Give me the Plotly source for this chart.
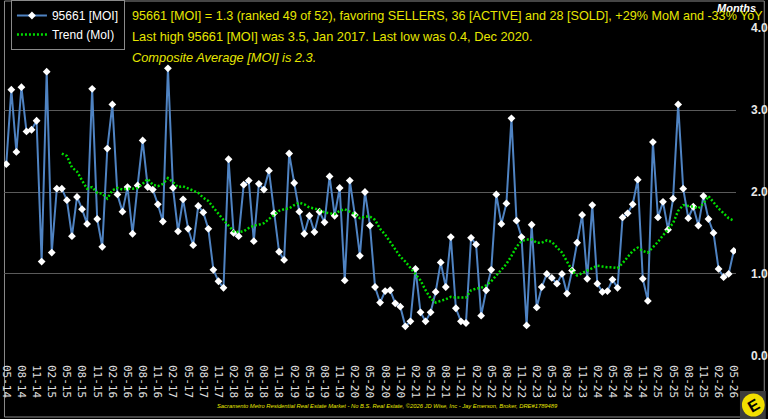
import pandas as pd
import plotly.graph_objects as go

# ---------------- data ----------------
months = [d.strftime("%m-%y") for d in pd.date_range("2014-05-01", periods=145, freq="MS")]

moi = [2.34, 3.25, 2.49, 3.28, 2.74, 2.76, 2.87, 1.15, 3.47, 1.26, 2.04, 2.04,
       1.90, 1.46, 1.94, 1.79, 1.61, 3.26, 1.67, 1.33, 2.53, 3.07, 1.97, 1.76,
       2.06, 1.49, 2.08, 2.63, 2.06, 2.03, 1.85, 1.64, 3.51, 2.05, 1.52, 1.91,
       1.55, 1.35, 1.83, 1.75, 1.55, 1.05, 0.91, 0.83, 2.40, 1.50, 1.46, 2.09,
       2.14, 1.40, 2.10, 2.03, 2.26, 1.74, 1.27, 1.17, 2.47, 2.11, 1.76, 1.49,
       1.71, 1.51, 1.76, 1.63, 2.19, 1.71, 2.05, 0.92, 2.14, 1.72, 1.22, 2.00,
       1.59, 0.84, 0.65, 0.79, 0.80, 0.64, 0.60, 0.36, 0.42, 1.06, 0.53, 0.42,
       0.53, 0.78, 1.14, 0.84, 1.45, 0.58, 0.42, 0.40, 1.44, 1.36, 0.49, 0.80,
       1.05, 1.97, 1.61, 1.86, 2.90, 1.65, 1.45, 0.37, 1.60, 0.59, 0.84, 1.00,
       0.95, 0.88, 1.00, 0.76, 1.04, 1.38, 1.72, 0.94, 1.84, 0.88, 0.78, 0.79,
       0.93, 0.83, 1.69, 1.74, 1.85, 2.15, 0.94, 0.67, 2.61, 1.69, 1.88, 1.54,
       1.92, 3.07, 2.04, 1.68, 1.82, 1.59, 1.95, 1.67, 1.50, 1.06, 0.96, 1.00,
       1.28]

trend = [None] * 11 + [
    2.47, 2.44, 2.30, 2.25, 2.14, 2.04, 2.06, 1.99, 1.98, 1.92, 2.02, 2.05,
    2.03, 2.04, 2.04, 2.05, 2.10, 2.16, 2.09, 2.07, 2.10, 2.17, 2.12, 2.06,
    2.07, 2.04, 2.02, 1.99, 1.93, 1.89, 1.81, 1.73, 1.66, 1.59, 1.52, 1.51,
    1.52, 1.56, 1.59, 1.60, 1.62, 1.67, 1.72, 1.77, 1.79, 1.80, 1.84, 1.87,
    1.85, 1.81, 1.80, 1.78, 1.75, 1.74, 1.73, 1.77, 1.79, 1.76, 1.73, 1.68,
    1.70, 1.70, 1.66, 1.55, 1.48, 1.39, 1.30, 1.21, 1.15, 1.07, 1.00, 0.92,
    0.80, 0.70, 0.65, 0.67, 0.69, 0.72, 0.71, 0.71, 0.71, 0.80, 0.82, 0.83,
    0.86, 0.91, 0.98, 1.04, 1.12, 1.22, 1.33, 1.40, 1.42, 1.42, 1.38, 1.38,
    1.41, 1.39, 1.32, 1.26, 1.15, 1.04, 0.98, 1.01, 1.05, 1.08, 1.10, 1.09,
    1.08, 1.08, 1.07, 1.13, 1.21, 1.28, 1.32, 1.28, 1.26, 1.32, 1.39, 1.47,
    1.55, 1.62, 1.77, 1.84, 1.83, 1.82, 1.80, 1.86, 1.95, 1.87, 1.80, 1.74,
    1.68, 1.65]

tick_labels = ["05-14", "08-14", "11-14", "02-15", "05-15", "08-15", "11-15",
               "02-16", "05-16", "08-16", "11-16", "02-17", "05-17", "08-17",
               "11-17", "02-18", "05-18", "08-18", "11-18", "02-19", "05-19",
               "08-19", "11-19", "02-20", "05-20", "08-20", "11-20", "02-21",
               "05-21", "08-21", "11-21", "02-22", "05-22", "08-22", "11-22",
               "02-23", "05-23", "08-23", "11-23", "02-24", "05-24", "08-24",
               "11-24", "02-25", "05-25", "08-25", "11-25", "02-26", "05-26"]

y_ticks = [0, 1, 2, 3, 4]

line1 = ("95661 [MOI] = 1.3 (ranked 49 of 52), favoring SELLERS, 36 [ACTIVE] and 28 [SOLD], "
         "+29% MoM and -33% YoY")
line2 = "Last high 95661 [MOI] was 3.5, Jan 2017. Last low was 0.4, Dec 2020."
line3 = "Composite Average [MOI] is 2.3."
footer = ("Sacramento Metro Residential Real Estate Market - No B.S. Real Estate, "
          "\u00a92026 JD Wise, Inc - Jay Emerson, Broker, DRE#1789489")

# ---------------- geometry helpers ----------------
W, H = 768, 419
PL, PR, PT, PB = 0, 738, 28, 356


def px(x):
    return (x - PL) / (PR - PL)


def py(y):
    return (PB - y) / (PB - PT)


YELLOW = "#e6e600"

fig = go.Figure()
fig.add_trace(go.Scatter(
    x=months, y=moi, name="95661 [MOI]", mode="lines+markers",
    line=dict(color="#4f83c2", width=2),
    marker=dict(symbol="diamond", size=6, color="white"),
))
fig.add_trace(go.Scatter(
    x=months, y=trend, name="Trend (MoI)", mode="lines",
    line=dict(color="#00dd00", width=2.5, dash="2px,2px"),
))

fig.update_layout(
    width=W, height=H,
    margin=dict(l=PL, r=W - PR, t=PT, b=H - PB),
    paper_bgcolor="black", plot_bgcolor="black",
    font=dict(family="Liberation Sans, Arial, sans-serif", color="white", size=12),
    showlegend=True,
    legend=dict(x=px(7), y=py(0), xanchor="left", yanchor="top",
                bgcolor="black", bordercolor="#8a8a8a", borderwidth=1,
                font=dict(size=12, color="white"), tracegroupgap=0),
    xaxis=dict(type="category", categoryorder="array", categoryarray=months,
               range=[-0.45, 144.45], showgrid=False, zeroline=False, showline=False,
               tickmode="array", tickvals=tick_labels, ticktext=tick_labels,
               tickangle=90, ticks="", ticklabelstandoff=8,
               tickfont=dict(family="DejaVu Sans Mono", size=11, color="#e0e0e0")),
    yaxis=dict(side="right", range=[-0.003, 4.003], tickmode="array",
               tickvals=y_ticks, ticktext=[f"{v:.1f}" for v in y_ticks],
               showgrid=True, gridcolor="#5a5a5a", gridwidth=1, zeroline=False,
               showline=False, ticks="", ticklabelstandoff=14,
               tickfont=dict(size=12, color="#e8e8e8", weight="bold")),
)

anns = [
    dict(text="<b><i>Months</i></b>", x=px(739), y=py(8), font=dict(size=11, color="white")),
    dict(text=line1, x=px(127), y=py(16.5), xanchor="left", font=dict(size=12.6, color=YELLOW)),
    dict(text=line2, x=px(127), y=py(36.5), xanchor="left", font=dict(size=12.8, color=YELLOW)),
    dict(text="<i>" + line3 + "</i>", x=px(127), y=py(57.5), xanchor="left",
         font=dict(size=12.8, color=YELLOW)),
    dict(text="<i>" + footer + "</i>", x=px(387), y=py(405.5), font=dict(size=5.8, color=YELLOW)),
    dict(text="<b>E</b>", x=px(755.5), y=py(405), textangle=-30,
         font=dict(size=16, color="black", family="Liberation Sans")),
]
for a in anns:
    a.setdefault("xanchor", "center")
    fig.add_annotation(xref="paper", yref="paper", yanchor="middle", showarrow=False, **a)

shapes = [
    # outer frame
    dict(type="rect", x0=px(0.5), x1=px(766.5), y0=py(1), y1=py(417),
         line=dict(color="#8a8a8a", width=1), fillcolor="rgba(0,0,0,0)", layer="below"),
    # logo
    dict(type="rect", x0=px(742), x1=px(768), y0=py(391), y1=py(419),
         line=dict(width=0), fillcolor="#3c3c3c", layer="above"),
    dict(type="circle", x0=px(744), x1=px(767), y0=py(393.5), y1=py(416.5),
         line=dict(width=0), fillcolor="#f2df00", layer="above"),
]
for s in shapes:
    fig.add_shape(xref="paper", yref="paper", **s)

fig.write_html("out.html", config={"displayModeBar": False})
